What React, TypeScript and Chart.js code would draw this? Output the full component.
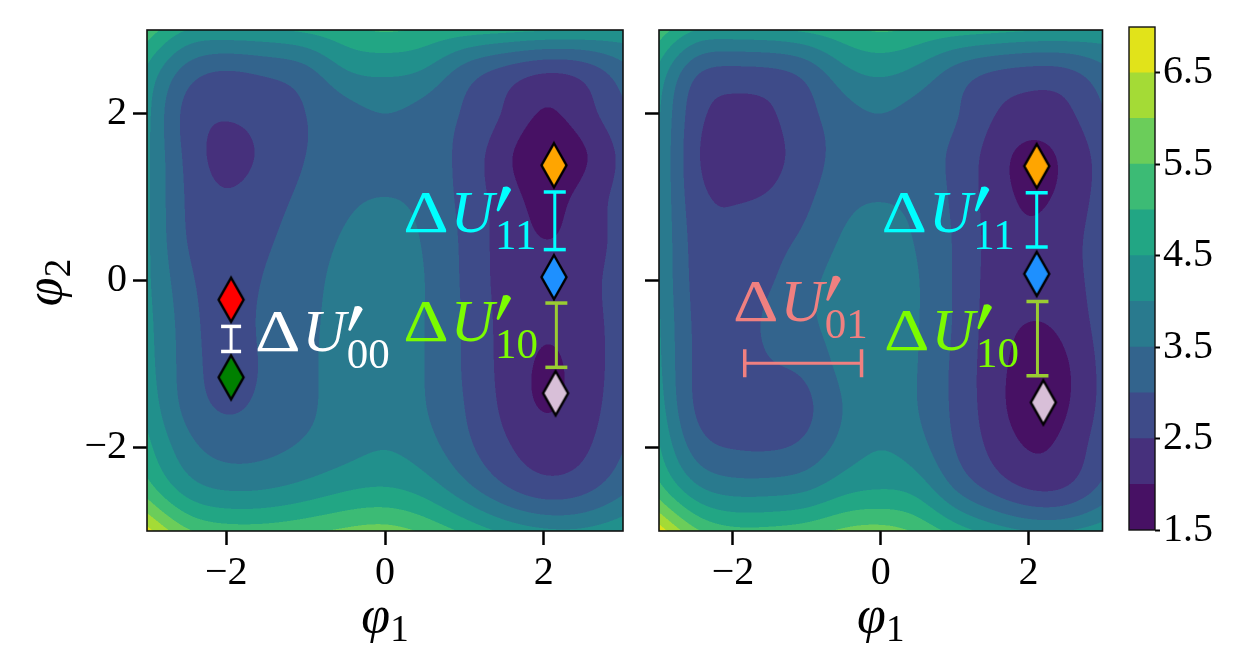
import React, { useEffect, useRef } from 'react';
import { Chart, registerables } from 'chart.js';
Chart.register(...registerables);

// ---------------- data ----------------
const PHI1_NODES = [-3, -2.5, -2, -1.5, -1, -0.5, 0, 0.5, 1, 1.5, 2, 2.5, 3];
const PHI2_NODES = [3, 2.5, 2, 1.5, 1, 0.5, 0, -0.5, -1, -1.5, -2, -2.5, -3];
const LEVELS = [1.5, 2, 2.5, 3, 3.5, 4, 4.5, 5, 5.5, 6, 6.5, 7];
const LEVEL_COLORS = ['#471164', '#46307c', '#3e4b89', '#33648d', '#297a8e', '#21908c', '#22a684', '#3cbb75', '#6bcd5a', '#a4db36', '#e1e31a'];
const COLORBAR_TICKS = [1.5, 2.5, 3.5, 4.5, 5.5, 6.5];
const AXIS_TICKS = [-2, 0, 2];

// potential (rows: phi2 = 3 ... -3, cols: phi1 = -3 ... 3)
const U_LEFT = [
  [5.3, 4.5, 4.4, 4.45, 4.6, 4.85, 5.05, 4.9, 4.75, 4.65, 4.55, 4.5, 4.4],
  [4.4, 3.3, 2.98, 3.1, 3.35, 3.95, 4.1, 3.93, 3.3, 2.85, 2.55, 2.7, 3.3],
  [4.15, 2.85, 2.55, 2.7, 3.0, 3.3, 3.5, 3.3, 2.95, 2.45, 1.96, 2.28, 2.9],
  [4.1, 2.88, 2.35, 2.62, 3.0, 3.25, 3.3, 3.2, 2.85, 2.15, 1.68, 1.94, 2.65],
  [4.1, 2.95, 2.55, 2.78, 3.12, 3.4, 3.5, 3.35, 2.85, 2.25, 1.85, 2.15, 2.7],
  [4.1, 3.0, 2.65, 2.92, 3.25, 3.55, 3.68, 3.45, 2.9, 2.3, 2.0, 2.2, 2.72],
  [4.1, 3.15, 2.72, 3.05, 3.35, 3.65, 3.78, 3.5, 2.92, 2.33, 2.15, 2.3, 2.78],
  [4.15, 3.25, 2.76, 3.12, 3.4, 3.68, 3.82, 3.5, 2.95, 2.35, 2.08, 2.25, 2.78],
  [4.2, 3.28, 2.8, 3.08, 3.4, 3.7, 3.82, 3.5, 2.95, 2.35, 1.95, 2.2, 2.78],
  [4.35, 3.35, 2.94, 3.14, 3.42, 3.68, 3.82, 3.52, 3.0, 2.4, 1.97, 2.25, 2.82],
  [4.65, 3.7, 3.32, 3.38, 3.58, 3.82, 3.98, 3.72, 3.15, 2.6, 2.25, 2.42, 2.98],
  [5.25, 4.3, 3.97, 4.0, 4.2, 4.45, 4.55, 4.3, 3.7, 3.1, 2.75, 2.88, 3.4],
  [6.7, 5.6, 5.25, 5.25, 5.4, 5.6, 5.7, 5.4, 4.9, 4.4, 4.1, 4.1, 4.4],
];

// potential
const U_RIGHT = [
  [5.3, 4.5, 4.4, 4.45, 4.6, 4.85, 5.05, 4.9, 4.75, 4.65, 4.55, 4.5, 4.4],
  [4.35, 3.1, 2.85, 2.9, 3.2, 3.85, 4.1, 3.85, 3.35, 3.0, 2.85, 2.9, 3.35],
  [4.05, 2.7, 2.35, 2.45, 2.85, 3.3, 3.5, 3.3, 3.05, 2.55, 2.3, 2.4, 2.95],
  [4.0, 2.6, 2.15, 2.35, 2.75, 3.2, 3.3, 3.2, 2.9, 2.3, 1.88, 2.12, 2.7],
  [4.0, 2.7, 2.45, 2.55, 2.9, 3.35, 3.47, 3.35, 2.9, 2.3, 1.92, 2.15, 2.7],
  [4.0, 2.8, 2.58, 2.8, 3.12, 3.55, 3.68, 3.45, 2.95, 2.35, 2.1, 2.3, 2.75],
  [4.0, 2.85, 2.65, 2.95, 3.35, 3.7, 3.78, 3.52, 2.95, 2.35, 2.2, 2.3, 2.75],
  [4.05, 2.9, 2.72, 3.1, 3.4, 3.72, 3.82, 3.52, 2.95, 2.3, 2.0, 2.15, 2.72],
  [4.1, 2.92, 2.75, 2.97, 3.15, 3.66, 3.82, 3.5, 2.9, 2.25, 1.8, 1.95, 2.65],
  [4.25, 2.95, 2.78, 2.82, 2.92, 3.52, 3.8, 3.5, 2.9, 2.25, 1.75, 1.95, 2.65],
  [4.55, 3.3, 2.98, 2.96, 3.15, 3.7, 3.98, 3.7, 3.0, 2.4, 1.98, 2.15, 2.8],
  [5.2, 4.15, 3.8, 3.8, 3.95, 4.35, 4.5, 4.3, 3.5, 2.9, 2.5, 2.55, 3.15],
  [6.8, 5.6, 5.15, 5.15, 5.3, 5.6, 5.7, 5.4, 4.8, 4.3, 4.0, 4.0, 4.3],
];

// state markers
const LEFT_STATE_PHI1 = [-1.94, -1.94, 2.13, 2.13, 2.15];
const LEFT_STATE_PHI2 = [-0.23, -1.16, 1.38, 0.04, -1.35];
const LEFT_STATE_COLORS = ['#ff0000', '#008000', '#ffa500', '#1e90ff', '#d8bfd8'];
const RIGHT_STATE_PHI1 = [2.11, 2.11, 2.2];
const RIGHT_STATE_PHI2 = [1.37, 0.08, -1.46];
const RIGHT_STATE_COLORS = ['#ffa500', '#1e90ff', '#d8bfd8'];

// vertical barriers: at phi1, from lo to hi in phi2
const LEFT_VBAR_PHI1 = [-1.94, 2.14, 2.16];
const LEFT_VBAR_LO = [-0.85, 0.37, -1.04];
const LEFT_VBAR_HI = [-0.55, 1.06, -0.27];
const LEFT_VBAR_COLORS = ['#ffffff', '#00ffff', '#9acd32'];
const LEFT_VBAR_CAP = [10, 11, 11];
const RIGHT_VBAR_PHI1 = [2.11, 2.12];
const RIGHT_VBAR_LO = [0.4, -1.14];
const RIGHT_VBAR_HI = [1.05, -0.25];
const RIGHT_VBAR_COLORS = ['#00ffff', '#9acd32'];
const RIGHT_VBAR_CAP = [11, 11];
// horizontal barrier: at phi2, from lo to hi in phi1
const RIGHT_HBAR_PHI2 = [-0.99];
const RIGHT_HBAR_LO = [-1.84];
const RIGHT_HBAR_HI = [-0.26];
const RIGHT_HBAR_COLORS = ['#f08080'];
const RIGHT_HBAR_CAP = [14];

// labels: anchor = left end of Delta on the baseline
const LEFT_LABEL_SUBS = ['00', '11', '10'];
const LEFT_LABEL_PHI1 = [-1.64, 0.23, 0.23];
const LEFT_LABEL_PHI2 = [-0.85, 0.58, -0.72];
const LEFT_LABEL_COLORS = ['#ffffff', '#00ffff', '#7cfc00'];
const RIGHT_LABEL_SUBS = ['11', '10', '01'];
const RIGHT_LABEL_PHI1 = [0.01, 0.045, -2.0];
const RIGHT_LABEL_PHI2 = [0.58, -0.83, -0.49];
const RIGHT_LABEL_COLORS = ['#00ffff', '#7cfc00', '#f08080'];

// ---------------- helpers ----------------
const SERIF = '"Liberation Serif", "DejaVu Serif", serif';

function hexToRgb(h: string) {
  const n = parseInt(h.slice(1), 16);
  return [(n >> 16) & 255, (n >> 8) & 255, n & 255];
}

// natural cubic spline (unit spacing): second derivatives
function splineM(y: ArrayLike<number>): Float64Array {
  const n = y.length;
  const M = new Float64Array(n);
  const m = n - 2;
  if (m < 1) return M;
  const cp = new Float64Array(m), dp = new Float64Array(m);
  for (let i = 0; i < m; i++) {
    const rhs = 6 * (y[i] - 2 * y[i + 1] + y[i + 2]);
    if (i === 0) { cp[i] = 1 / 4; dp[i] = rhs / 4; }
    else { const den = 4 - cp[i - 1]; cp[i] = 1 / den; dp[i] = (rhs - dp[i - 1]) / den; }
  }
  for (let i = m - 1; i >= 0; i--) M[i + 1] = dp[i] - (i < m - 1 ? cp[i] * M[i + 2] : 0);
  return M;
}

function splineEval(y: ArrayLike<number>, M: Float64Array, t: number) {
  const n = y.length;
  let i = Math.floor(t);
  if (i < 0) i = 0;
  if (i > n - 2) i = n - 2;
  const u = t - i, w = 1 - u;
  return w * y[i] + u * y[i + 1] + ((w * w * w - w) * M[i] + (u * u * u - u) * M[i + 1]) / 6;
}

function bandIndex(v: number) {
  let k = 0;
  while (k < LEVELS.length - 2 && v >= LEVELS[k + 1]) k++;
  return k;
}

function makeDiamond(color: string): HTMLCanvasElement {
  const c = document.createElement('canvas');
  c.width = 30; c.height = 50;
  const g = c.getContext('2d')!;
  g.beginPath();
  g.moveTo(15, 3); g.lineTo(27.5, 25); g.lineTo(15, 47); g.lineTo(2.5, 25); g.closePath();
  g.fillStyle = color; g.fill();
  g.lineWidth = 2.4; g.strokeStyle = '#000'; g.lineJoin = 'miter'; g.stroke();
  return c;
}

function fmtTick(v: number) {
  return v < 0 ? '\u2212' + Math.abs(v) : String(v);
}

function drawDU(ctx: CanvasRenderingContext2D, x: number, y: number, sub: string, color: string) {
  const S = 60;
  ctx.save();
  ctx.fillStyle = color;
  ctx.textAlign = 'left';
  ctx.textBaseline = 'alphabetic';
  ctx.font = `${S}px ${SERIF}`;
  const dw = ctx.measureText('\u0394').width * 1.18;
  ctx.save(); ctx.translate(x, y); ctx.scale(1.18, 1); ctx.fillText('\u0394', 0, 0); ctx.restore();
  let cx = x + dw + 2;
  ctx.font = `italic ${S}px ${SERIF}`;
  ctx.fillText('U', cx, y);
  cx += ctx.measureText('U').width;
  // prime (separate slanted wedge, thick at the top)
  ctx.beginPath();
  ctx.moveTo(cx + 9, y - 45);
  ctx.quadraticCurveTo(cx + 15, y - 47, cx + 17, y - 42);
  ctx.lineTo(cx + 5, y - 21);
  ctx.quadraticCurveTo(cx + 3, y - 20, cx + 2.5, y - 22);
  ctx.closePath();
  ctx.fill();
  ctx.font = `${Math.round(S * 0.72)}px ${SERIF}`;
  ctx.fillText(sub, cx + 1, y + 17);
  ctx.restore();
}

function drawPhiTitle(ctx: CanvasRenderingContext2D, x: number, y: number, sub: string, rotate: boolean) {
  ctx.save();
  ctx.translate(x, y);
  if (rotate) ctx.rotate(-Math.PI / 2);
  ctx.fillStyle = '#000';
  ctx.textBaseline = 'alphabetic';
  ctx.textAlign = 'left';
  ctx.font = `italic 52px ${SERIF}`;
  const w1 = ctx.measureText('\u03c6').width;
  ctx.font = `37px ${SERIF}`;
  const w2 = ctx.measureText(sub).width;
  const start = -(w1 + w2) / 2;
  ctx.font = `italic 52px ${SERIF}`;
  ctx.fillText('\u03c6', start, 0);
  ctx.font = `37px ${SERIF}`;
  ctx.fillText(sub, start + w1, 9);
  ctx.restore();
}

function makeFieldPlugin(grid: number[][]) {
  return {
    id: 'contourField',
    beforeDatasetsDraw(chart: any) {
      const { ctx, chartArea: a, scales } = chart;
      const x0 = Math.round(a.left), y0 = Math.round(a.top);
      const w = Math.round(a.right) - x0, h = Math.round(a.bottom) - y0;
      const off = document.createElement('canvas');
      off.width = w; off.height = h;
      const octx = off.getContext('2d')!;
      const img = octx.createImageData(w, h);
      const SS = 2;
      const W = w * SS, H = h * SS;
      const dx = PHI1_NODES[1] - PHI1_NODES[0];
      const dy = PHI2_NODES[1] - PHI2_NODES[0];
      const ty = new Float64Array(H);
      for (let j = 0; j < H; j++) ty[j] = (scales.y.getValueForPixel(y0 + (j + 0.5) / SS) - PHI2_NODES[0]) / dy;
      const rowM = grid.map((r) => splineM(r));
      const bands = new Uint8Array(W * H);
      const col = new Float64Array(grid.length);
      for (let i = 0; i < W; i++) {
        const tx = (scales.x.getValueForPixel(x0 + (i + 0.5) / SS) - PHI1_NODES[0]) / dx;
        for (let r = 0; r < grid.length; r++) col[r] = splineEval(grid[r], rowM[r], tx);
        const cM = splineM(col);
        for (let j = 0; j < H; j++) bands[j * W + i] = bandIndex(splineEval(col, cM, ty[j]));
      }
      const rgb = LEVEL_COLORS.map(hexToRgb);
      const d = img.data;
      const n = SS * SS;
      for (let py = 0; py < h; py++) {
        for (let px = 0; px < w; px++) {
          let r = 0, g = 0, b = 0;
          for (let sy = 0; sy < SS; sy++) {
            for (let sx = 0; sx < SS; sx++) {
              const c = rgb[bands[(py * SS + sy) * W + px * SS + sx]];
              r += c[0]; g += c[1]; b += c[2];
            }
          }
          const o = (py * w + px) * 4;
          d[o] = r / n; d[o + 1] = g / n; d[o + 2] = b / n; d[o + 3] = 255;
        }
      }
      octx.putImageData(img, 0, 0);
      ctx.drawImage(off, x0, y0);
    },
  };
}

function makeOverlayPlugin(subs: string[], lx: number[], ly: number[], colors: string[], showYTitle: boolean) {
  return {
    id: 'overlay',
    afterDatasetsDraw(chart: any) {
      const { ctx, chartArea: a, scales } = chart;
      for (let i = 0; i < subs.length; i++) {
        drawDU(ctx, scales.x.getPixelForValue(lx[i]), scales.y.getPixelForValue(ly[i]), subs[i], colors[i]);
      }
      ctx.save();
      ctx.strokeStyle = '#111';
      ctx.lineWidth = 1.6;
      ctx.strokeRect(a.left, a.top, a.right - a.left, a.bottom - a.top);
      ctx.restore();
    },
    afterDraw(chart: any) {
      const { ctx, chartArea: a } = chart;
      drawPhiTitle(ctx, (a.left + a.right) / 2, 632, '1', false);
      if (showYTitle) drawPhiTitle(ctx, 61, (a.top + a.bottom) / 2 + 2, '2', true);
    },
  };
}

function panelConfig(opts: {
  grid: number[][];
  sx: number[]; sy: number[]; sc: string[];
  vx: number[]; vlo: number[]; vhi: number[]; vc: string[]; vcap: number[];
  hy: number[]; hlo: number[]; hhi: number[]; hc: string[]; hcap: number[];
  subs: string[]; lx: number[]; ly: number[]; lc: string[];
  yAxisWidth: number; padRight: number; showYLabels: boolean;
}): any {
  const datasets: any[] = [];
  for (let i = 0; i < opts.vx.length; i++) {
    datasets.push({
      type: 'line',
      data: [{ x: opts.vx[i], y: opts.vlo[i] }, { x: opts.vx[i], y: opts.vhi[i] }],
      borderColor: opts.vc[i], borderWidth: 3,
      pointStyle: 'line', pointRadius: opts.vcap[i], pointBorderWidth: 3.5,
      pointBorderColor: opts.vc[i], pointBackgroundColor: opts.vc[i], pointRotation: 0,
      fill: false, tension: 0,
    });
  }
  for (let i = 0; i < opts.hy.length; i++) {
    datasets.push({
      type: 'line',
      data: [{ x: opts.hlo[i], y: opts.hy[i] }, { x: opts.hhi[i], y: opts.hy[i] }],
      borderColor: opts.hc[i], borderWidth: 3,
      pointStyle: 'line', pointRadius: opts.hcap[i], pointBorderWidth: 3.5,
      pointBorderColor: opts.hc[i], pointBackgroundColor: opts.hc[i], pointRotation: 90,
      fill: false, tension: 0,
    });
  }
  for (let i = 0; i < opts.sx.length; i++) {
    datasets.push({
      type: 'scatter',
      data: [{ x: opts.sx[i], y: opts.sy[i] }],
      pointStyle: makeDiamond(opts.sc[i]), pointRadius: 14,
    });
  }
  const tickFont = { family: SERIF, size: 40 };
  return {
    type: 'scatter',
    data: { datasets },
    plugins: [
      makeFieldPlugin(opts.grid),
      makeOverlayPlugin(opts.subs, opts.lx, opts.ly, opts.lc, opts.showYLabels),
    ],
    options: {
      animation: false,
      responsive: false,
      maintainAspectRatio: false,
      events: [],
      layout: { padding: { left: 0, top: 20, right: opts.padRight, bottom: 0 } },
      plugins: { legend: { display: false }, tooltip: { enabled: false }, title: { display: false } },
      scales: {
        x: {
          type: 'linear', min: -3, max: 3,
          afterBuildTicks: (s: any) => { s.ticks = AXIS_TICKS.map((v) => ({ value: v })); },
          afterFit: (s: any) => { s.height = 136; },
          grid: { drawOnChartArea: false, drawTicks: true, tickLength: 14, tickWidth: 2.5, tickColor: '#000' },
          border: { display: false },
          ticks: { padding: 4, color: '#000', font: tickFont, maxRotation: 0, autoSkip: false, callback: (v: number) => fmtTick(v) },
        },
        y: {
          type: 'linear', min: -3, max: 3,
          afterBuildTicks: (s: any) => { s.ticks = AXIS_TICKS.map((v) => ({ value: v })); },
          afterFit: (s: any) => { s.width = opts.yAxisWidth; },
          grid: { drawOnChartArea: false, drawTicks: true, tickLength: 14, tickWidth: 2.5, tickColor: '#000' },
          border: { display: false },
          ticks: {
            padding: 6, color: opts.showYLabels ? '#000' : 'rgba(0,0,0,0)', font: tickFont,
            autoSkip: false, callback: (v: number) => fmtTick(v),
          },
        },
      },
    },
  };
}

function colorbarConfig(): any {
  const datasets = LEVEL_COLORS.map((c, i) => ({
    data: [[LEVELS[i], LEVELS[i + 1]]],
    backgroundColor: c,
    borderWidth: 0,
    barPercentage: 1,
    categoryPercentage: 1,
    grouped: false,
  }));
  return {
    type: 'bar',
    data: { labels: ['U'], datasets },
    plugins: [{
      id: 'cbFrame',
      afterDatasetsDraw(chart: any) {
        const { ctx, chartArea: a } = chart;
        ctx.save();
        ctx.strokeStyle = '#111';
        ctx.lineWidth = 1.4;
        ctx.strokeRect(a.left, a.top, a.right - a.left, a.bottom - a.top);
        ctx.restore();
      },
    }],
    options: {
      animation: false,
      responsive: false,
      maintainAspectRatio: false,
      events: [],
      layout: { padding: { left: 9, top: 21, right: 0, bottom: 137 } },
      plugins: { legend: { display: false }, tooltip: { enabled: false } },
      scales: {
        x: { display: false },
        y: {
          position: 'right', min: 1.5, max: 7,
          afterBuildTicks: (s: any) => { s.ticks = COLORBAR_TICKS.map((v) => ({ value: v })); },
          afterFit: (s: any) => { s.width = 91; },
          grid: { drawOnChartArea: false, drawTicks: true, tickLength: 5, tickWidth: 2, tickColor: '#000' },
          border: { display: false },
          ticks: { padding: 3, color: '#000', font: { family: SERIF, size: 40 }, autoSkip: false, callback: (v: number) => v.toFixed(1) },
        },
      },
    },
  };
}

export default function App() {
  const leftRef = useRef<HTMLCanvasElement>(null);
  const rightRef = useRef<HTMLCanvasElement>(null);
  const cbRef = useRef<HTMLCanvasElement>(null);

  useEffect(() => {
    const charts: Chart[] = [];
    charts.push(new Chart(leftRef.current!, panelConfig({
      grid: U_LEFT,
      sx: LEFT_STATE_PHI1, sy: LEFT_STATE_PHI2, sc: LEFT_STATE_COLORS,
      vx: LEFT_VBAR_PHI1, vlo: LEFT_VBAR_LO, vhi: LEFT_VBAR_HI, vc: LEFT_VBAR_COLORS, vcap: LEFT_VBAR_CAP,
      hy: [], hlo: [], hhi: [], hc: [], hcap: [],
      subs: LEFT_LABEL_SUBS, lx: LEFT_LABEL_PHI1, ly: LEFT_LABEL_PHI2, lc: LEFT_LABEL_COLORS,
      yAxisWidth: 147, padRight: 17, showYLabels: true,
    })));
    charts.push(new Chart(rightRef.current!, panelConfig({
      grid: U_RIGHT,
      sx: RIGHT_STATE_PHI1, sy: RIGHT_STATE_PHI2, sc: RIGHT_STATE_COLORS,
      vx: RIGHT_VBAR_PHI1, vlo: RIGHT_VBAR_LO, vhi: RIGHT_VBAR_HI, vc: RIGHT_VBAR_COLORS, vcap: RIGHT_VBAR_CAP,
      hy: RIGHT_HBAR_PHI2, hlo: RIGHT_HBAR_LO, hhi: RIGHT_HBAR_HI, hc: RIGHT_HBAR_COLORS, hcap: RIGHT_HBAR_CAP,
      subs: RIGHT_LABEL_SUBS, lx: RIGHT_LABEL_PHI1, ly: RIGHT_LABEL_PHI2, lc: RIGHT_LABEL_COLORS,
      yAxisWidth: 19, padRight: 17, showYLabels: false,
    })));
    charts.push(new Chart(cbRef.current!, colorbarConfig()));
    return () => { charts.forEach((c) => c.destroy()); };
  }, []);

  return (
    <div style={{ position: 'absolute', left: 0, top: 0, width: 1246, height: 667, background: '#fff', overflow: 'hidden' }}>
      <canvas ref={leftRef} width={640} height={667} style={{ position: 'absolute', left: 0, top: 0, width: 640, height: 667 }} />
      <canvas ref={rightRef} width={480} height={667} style={{ position: 'absolute', left: 640, top: 0, width: 480, height: 667 }} />
      <canvas ref={cbRef} width={126} height={667} style={{ position: 'absolute', left: 1120, top: 0, width: 126, height: 667 }} />
    </div>
  );
}
